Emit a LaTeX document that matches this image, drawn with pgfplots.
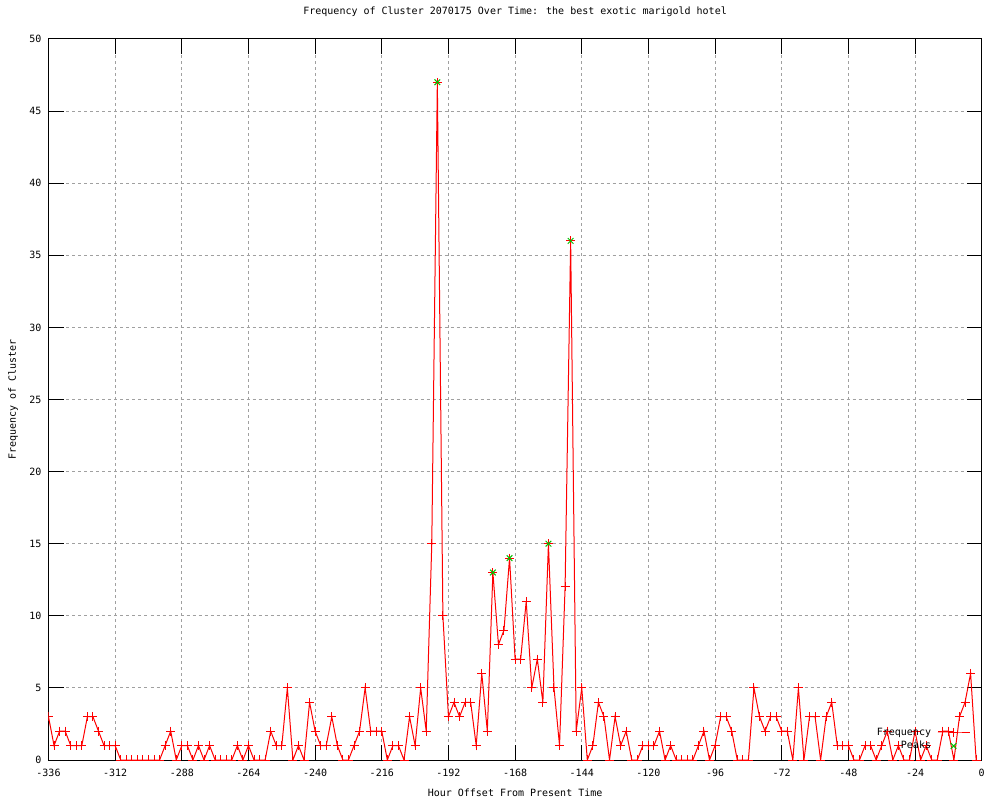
\documentclass[border=0pt]{standalone}
\usepackage{pgfplots}
\pgfplotsset{compat=1.18}
\usepackage{fontspec}
\newfontfamily\gpfont{DejaVu Sans Mono}
\newcommand\gp{\gpfont\fontsize{10bp}{12bp}\selectfont}
\definecolor{gpred}{RGB}{255,0,0}
\definecolor{gpgreen}{RGB}{0,192,0}
\definecolor{gpgrid}{RGB}{160,160,160}
\pgfplotstableread{
x y
-336 3
-334 1
-332 2
-330 2
-328 1
-326 1
-324 1
-322 3
-320 3
-318 2
-316 1
-314 1
-312 1
-310 0
-308 0
-306 0
-304 0
-302 0
-300 0
-298 0
-296 0
-294 1
-292 2
-290 0
-288 1
-286 1
-284 0
-282 1
-280 0
-278 1
-276 0
-274 0
-272 0
-270 0
-268 1
-266 0
-264 1
-262 0
-260 0
-258 0
-256 2
-254 1
-252 1
-250 5
-248 0
-246 1
-244 0
-242 4
-240 2
-238 1
-236 1
-234 3
-232 1
-230 0
-228 0
-226 1
-224 2
-222 5
-220 2
-218 2
-216 2
-214 0
-212 1
-210 1
-208 0
-206 3
-204 1
-202 5
-200 2
-198 15
-196 47
-194 10
-192 3
-190 4
-188 3
-186 4
-184 4
-182 1
-180 6
-178 2
-176 13
-174 8
-172 9
-170 14
-168 7
-166 7
-164 11
-162 5
-160 7
-158 4
-156 15
-154 5
-152 1
-150 12
-148 36
-146 2
-144 5
-142 0
-140 1
-138 4
-136 3
-134 0
-132 3
-130 1
-128 2
-126 0
-124 0
-122 1
-120 1
-118 1
-116 2
-114 0
-112 1
-110 0
-108 0
-106 0
-104 0
-102 1
-100 2
-98 0
-96 1
-94 3
-92 3
-90 2
-88 0
-86 0
-84 0
-82 5
-80 3
-78 2
-76 3
-74 3
-72 2
-70 2
-68 0
-66 5
-64 0
-62 3
-60 3
-58 0
-56 3
-54 4
-52 1
-50 1
-48 1
-46 0
-44 0
-42 1
-40 1
-38 0
-36 1
-34 2
-32 0
-30 1
-28 0
-26 0
-24 2
-22 0
-20 1
-18 0
-16 0
-14 2
-12 2
-10 0
-8 3
-6 4
-4 6
-2 0
}\freqtable
\pgfplotstableread{
x y
-196 47
-176 13
-170 14
-156 15
-148 36
}\peaktable
\begin{document}
\begin{tikzpicture}
\path[use as bounding box] (-48.5bp,-40bp) rectangle (951.5bp,760bp);
\begin{axis}[
  at={(0,0)}, anchor=south west,
  scale only axis, width=933.2bp, height=721bp,
  xmin=-336, xmax=0, ymin=0, ymax=50,
  xtick={-336,-312,...,0}, ytick={0,5,...,50},
  /pgf/number format/assume math mode=true,
  tick label style={font=\gp},
  xticklabel style={anchor=center, yshift=-13bp},
  yticklabel style={xshift=-3.5bp},
  tick align=inside,
  major tick length=15bp,
  tick style={black, line width=1bp},
  axis line style={black, line width=1bp},
  xmajorgrids, ymajorgrids,
  major grid style={gpgrid, line width=1bp, dash pattern=on 3bp off 3bp},
  title={Frequency of Cluster 2070175 Over Time: the best exotic marigold hotel},
  title style={font=\gp, at={(axis description cs:0.5,1.0291)}, anchor=center},
  xlabel={Hour Offset From Present Time},
  xlabel style={font=\gp, at={(axis description cs:0.5,-0.0458)}, anchor=center},
  ylabel={Frequency of Cluster},
  ylabel style={font=\gp, at={(axis description cs:-0.038,0.5)}, anchor=center},
  clip marker paths=true,
  legend style={draw=none, fill=none, font=\gp,
    at={(axis description cs:0.9875,0.0104)}, anchor=south east,
    inner sep=0pt, outer sep=0pt, row sep=0pt, column sep=5bp,
    nodes={inner sep=1bp, text height=8bp, text depth=3bp}},
  legend cell align=right,
  legend plot pos=right,
  legend image code/.code={\draw[mark repeat=2,mark phase=2,#1] plot coordinates {(0bp,0bp) (16bp,0bp) (32bp,0bp)};},
]
\addplot[gpred, line width=1bp, mark=+, mark size=4.5bp, mark options={solid}] table[x=x,y=y] {\freqtable};
\addlegendentry{Frequency}
\addplot[gpgreen, only marks, line width=1bp, mark=x, mark size=4bp] table[x=x,y=y] {\peaktable};
\addlegendentry{Peaks}
\end{axis}
\end{tikzpicture}
\end{document}
